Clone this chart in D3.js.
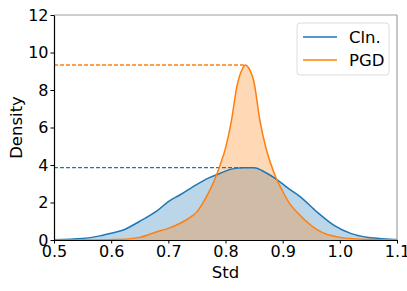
<!DOCTYPE html>
<html><head><meta charset="utf-8">
<script src="https://cdn.jsdelivr.net/npm/d3@7"></script>
<style>body{margin:0;background:#fff}svg{display:block;font-family:"DejaVu Sans",sans-serif}</style>
</head><body><div id="chart"></div>
<script>
// Data
const clnX = [0.50,0.55,0.58,0.60,0.62,0.65,0.68,0.70,0.72,0.75,0.77,0.79,0.81,0.83,0.85,0.87,0.89,0.91,0.93,0.96,0.99,1.02,1.05,1.08,1.10];
const clnY = [0.02,0.08,0.22,0.36,0.52,1.00,1.55,2.05,2.40,2.97,3.30,3.55,3.78,3.86,3.86,3.60,3.22,2.75,2.33,1.50,0.78,0.34,0.13,0.06,0.03];
const pgdX = [0.50,0.55,0.60,0.63,0.65,0.68,0.70,0.72,0.74,0.75,0.76,0.77,0.78,0.79,0.80,0.81,0.82,0.83,0.835,0.84,0.85,0.86,0.87,0.88,0.89,0.90,0.91,0.93,0.96,1.00,1.05,1.10];
const pgdY = [0.00,0.00,0.02,0.06,0.14,0.44,0.62,0.88,1.25,1.50,1.95,2.50,3.15,3.95,4.90,6.30,8.20,9.15,9.33,9.20,8.40,6.40,5.00,4.00,3.20,2.60,2.05,1.33,0.55,0.14,0.03,0.01];
const seriesNames = ["Cln.", "PGD"];
const colors = ["#1f77b4", "#ff7f0e"];
const xTicks = [0.5,0.6,0.7,0.8,0.9,1.0,1.1];
const yTicks = [0,2,4,6,8,10,12];

const W = 407, H = 291;
const m = {l:54, r:10, t:15, b:51};
const svg = d3.select("#chart").append("svg").attr("width", W).attr("height", H);
const x = d3.scaleLinear().domain([0.5, 1.1]).range([m.l, W - m.r]);
const y = d3.scaleLinear().domain([0, 12]).range([H - m.b, m.t]);

const series = [
  {name: seriesNames[0], pts: clnX.map((v,i)=>[v, clnY[i]]), color: colors[0]},
  {name: seriesNames[1], pts: pgdX.map((v,i)=>[v, pgdY[i]]), color: colors[1]}
];

const area = d3.area().x(d=>x(d[0])).y0(y(0)).y1(d=>y(d[1])).curve(d3.curveMonotoneX);
const line = d3.line().x(d=>x(d[0])).y(d=>y(d[1])).curve(d3.curveMonotoneX);

series.forEach(s => {
  svg.append("path").attr("d", area(s.pts)).attr("fill", s.color).attr("fill-opacity", 0.3);
});
series.forEach(s => {
  svg.append("path").attr("d", line(s.pts)).attr("fill", "none").attr("stroke", s.color).attr("stroke-width", 1.5);
  const pk = s.pts.reduce((a,b)=> b[1] > a[1] ? b : a);
  svg.append("line").attr("x1", x(0.5)).attr("x2", x(pk[0])).attr("y1", y(pk[1])).attr("y2", y(pk[1]))
    .attr("stroke", s.color).attr("stroke-width", 1.4).attr("stroke-dasharray", "4,2");
});

// spines
svg.append("line").attr("x1", m.l).attr("x2", W-m.r).attr("y1", m.t).attr("y2", m.t).attr("stroke", "#a0a0a0").attr("stroke-width", 1.2);
svg.append("line").attr("x1", W-m.r).attr("x2", W-m.r).attr("y1", m.t).attr("y2", H-m.b).attr("stroke", "#a0a0a0").attr("stroke-width", 1.2);

const xAxis = svg.append("g").attr("transform", `translate(0,${H-m.b})`)
  .call(d3.axisBottom(x).tickValues(xTicks).tickFormat(d3.format(".1f")).tickSize(3.5).tickPadding(2.5).tickSizeOuter(0));
const yAxis = svg.append("g").attr("transform", `translate(${m.l},0)`)
  .call(d3.axisLeft(y).tickValues(yTicks).tickFormat(d3.format("d")).tickSize(3.5).tickPadding(2).tickSizeOuter(0));
[xAxis, yAxis].forEach(g => {
  g.selectAll("text").attr("font-size", 16).attr("fill", "#000").attr("font-family", "DejaVu Sans");
  g.select(".domain").attr("stroke", "#000").attr("stroke-width", 1.2);
  g.selectAll(".tick line").attr("stroke", "#000");
});

svg.append("text").attr("x", (m.l + W - m.r)/2).attr("y", 278).attr("text-anchor", "middle")
  .attr("font-size", 16.5).text("Std");
svg.append("text").attr("transform", `translate(21.5,${(m.t + H - m.b)/2}) rotate(-90)`).attr("text-anchor", "middle")
  .attr("font-size", 16.5).text("Density");

// legend
const lg = svg.append("g");
lg.append("rect").attr("x", 297).attr("y", 23).attr("width", 92).attr("height", 52).attr("rx", 3)
  .attr("fill", "#fff").attr("fill-opacity", 0.8).attr("stroke", "#dcdcdc");
series.forEach((s, i) => {
  const cy = 37 + i*23;
  lg.append("line").attr("x1", 303).attr("x2", 337).attr("y1", cy).attr("y2", cy).attr("stroke", s.color).attr("stroke-width", 1.5);
  lg.append("text").attr("x", 349).attr("y", cy).attr("dy", "0.36em").attr("font-size", 16.5).text(s.name);
});
</script></body></html>
